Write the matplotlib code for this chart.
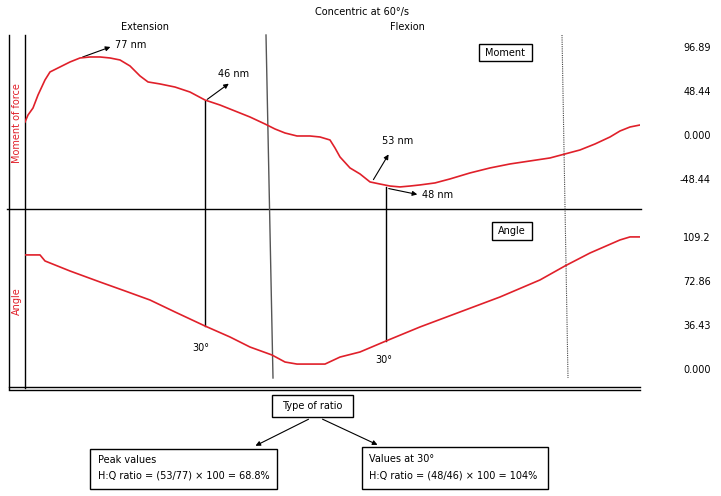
import matplotlib.pyplot as plt
from matplotlib.patches import Rectangle

plt.rcParams['font.family'] = ['DejaVu Sans']
FS = 7

# moment of force trace (sample index, Nm)
moment_x = [0, 3, 8, 13, 20, 25, 35, 45, 55, 65, 75, 85, 95, 105, 115, 123, 135, 150,
            165, 180, 195, 210, 225, 240, 250, 260, 272, 285, 295, 305, 310, 315, 325,
            335, 345, 355, 365, 375, 385, 395, 410, 425, 445, 465, 485, 505, 525, 540,
            555, 570, 585, 595, 605, 615]
moment_val = [14.3, 22.0, 29.7, 44.0, 60.6, 69.4, 74.9, 80.4, 84.8, 85.9, 85.9, 84.8,
              82.6, 76.0, 65.0, 58.4, 56.2, 52.8, 47.3, 38.5, 33.0, 26.4, 19.8, 12.1,
              6.6, 2.2, -1.1, -1.1, -2.2, -5.5, -14.3, -24.2, -36.3, -42.9, -51.7,
              -54.0, -56.2, -57.2, -56.2, -55.0, -52.8, -48.4, -41.8, -36.3, -31.9,
              -28.6, -25.3, -20.9, -16.5, -9.9, -2.2, 4.4, 8.8, 11.0]

# knee angle trace (sample index, degrees)
angle_x = [0, 15, 20, 45, 75, 100, 125, 150, 180, 205, 225, 247, 260, 272, 300, 315,
           335, 361, 395, 435, 475, 515, 540, 565, 595, 605, 615]
angle_val = [94.4, 94.4, 89.4, 81.1, 72.0, 64.6, 57.1, 47.2, 35.6, 26.5, 18.2, 11.6,
             5.8, 4.1, 4.1, 9.9, 14.1, 23.2, 34.8, 47.2, 59.6, 73.7, 85.3, 96.0,
             106.8, 109.3, 109.3]

moment_ticks = [96.89, 48.44, 0.0, -48.44]
moment_tick_labels = ['96.89', '48.44', '0.000', '-48.44']
angle_ticks = [109.2, 72.86, 36.43, 0.0]
angle_tick_labels = ['109.2', '72.86', '36.43', '0.000']

W, H = 721, 496
fig = plt.figure(figsize=(W / 100, H / 100), dpi=100)


def px_axes(x0, y0, x1, y1):
    return fig.add_axes([x0 / W, 1 - y1 / H, (x1 - x0) / W, (y1 - y0) / H])


red = '#e0202a'

ax_m = px_axes(25, 35, 640, 209)
ax_m.plot(moment_x, moment_val, color=red, lw=1.2)
ax_m.set_xlim(0, 615)
ax_m.set_ylim(-81.5, 110.1)

ax_a = px_axes(25, 209, 640, 388)
ax_a.plot(angle_x, angle_val, color=red, lw=1.2)
ax_a.set_xlim(0, 615)
ax_a.set_ylim(-15.7, 132.4)

for ax, ticks, labels in [(ax_m, moment_ticks, moment_tick_labels),
                          (ax_a, angle_ticks, angle_tick_labels)]:
    for s in ax.spines.values():
        s.set_visible(False)
    ax.set_xticks([])
    ax.yaxis.tick_right()
    ax.set_yticks(ticks)
    ax.set_yticklabels(labels, fontsize=FS)
    ax.tick_params(axis='y', length=0, pad=51)
    for t in ax.get_yticklabels():
        t.set_ha('right')
    ax.patch.set_visible(False)

# overlay in pixel coordinates for frame, annotations and flow boxes
ov = fig.add_axes([0, 0, 1, 1], zorder=-1)
ov.set_xlim(0, W)
ov.set_ylim(H, 0)
ov.axis('off')

k = dict(color='black', lw=1)
ov.plot([9, 9], [35, 389], **k)
ov.plot([25, 25], [35, 388], **k)
ov.plot([7, 641], [209, 209], **k)
ov.plot([9, 640], [387, 387], **k)
ov.plot([9, 640], [389.5, 389.5], **k)
ov.plot([266, 273], [35, 378], color='#555555', lw=1)
ov.plot([562, 568], [35, 378], color='#444444', lw=0.8, ls=(0, (1, 1)))
ov.plot([205, 205], [101, 326], **k)
ov.plot([386, 386], [187, 341], **k)

ov.text(362, 12, 'Concentric at 60°/s', fontsize=FS, ha='center', va='center')
ov.text(145, 27, 'Extension', fontsize=FS, ha='center', va='center')
ov.text(407, 27, 'Flexion', fontsize=FS, ha='center', va='center')
ov.text(17, 123, 'Moment of force', fontsize=FS, color=red, rotation=90,
        ha='center', va='center')
ov.text(17, 301, 'Angle', fontsize=FS, color=red, rotation=90,
        ha='center', va='center')

arrow = dict(arrowstyle='-|>', color='black', lw=0.8, mutation_scale=7)
ov.annotate('', xy=(113, 46), xytext=(80, 58), arrowprops=arrow)
ov.text(115, 45, '77 nm', fontsize=FS, ha='left', va='center')
ov.annotate('', xy=(231, 82), xytext=(205, 101), arrowprops=arrow)
ov.text(218, 74, '46 nm', fontsize=FS, ha='left', va='center')
ov.annotate('', xy=(390, 152), xytext=(372, 182), arrowprops=arrow)
ov.text(382, 141, '53 nm', fontsize=FS, ha='left', va='center')
ov.annotate('', xy=(420, 195), xytext=(386, 188), arrowprops=arrow)
ov.text(422, 195, '48 nm', fontsize=FS, ha='left', va='center')
ov.text(192, 348, '30°', fontsize=FS, ha='left', va='center')
ov.text(375, 360, '30°', fontsize=FS, ha='left', va='center')


def box(x0, y0, x1, y1):
    ov.add_patch(Rectangle((x0, y0), x1 - x0, y1 - y0, fill=False,
                           edgecolor='black', lw=1))


box(479, 44, 532, 61)
ov.text(505.5, 52.5, 'Moment', fontsize=FS, ha='center', va='center')
box(492, 222, 532, 240)
ov.text(512, 231, 'Angle', fontsize=FS, ha='center', va='center')

box(272, 395, 353, 417)
ov.text(312.5, 406, 'Type of ratio', fontsize=FS, ha='center', va='center')
ov.annotate('', xy=(253, 447), xytext=(311, 418), arrowprops=arrow)
ov.annotate('', xy=(380, 446), xytext=(320, 418), arrowprops=arrow)

box(90, 449, 277, 489)
ov.text(98, 460, 'Peak values', fontsize=FS, ha='left', va='center')
ov.text(98, 476, 'H:Q ratio = (53/77) × 100 = 68.8%', fontsize=FS,
        ha='left', va='center')
box(362, 447, 548, 489)
ov.text(369, 459, 'Values at 30°', fontsize=FS, ha='left', va='center')
ov.text(369, 476, 'H:Q ratio = (48/46) × 100 = 104%', fontsize=FS,
        ha='left', va='center')

fig.savefig('out.png', dpi=100)
